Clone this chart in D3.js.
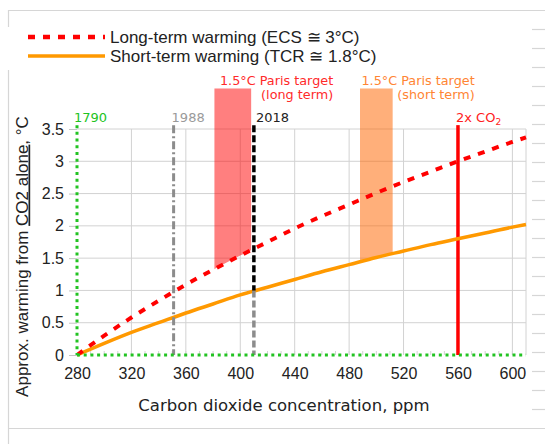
<!DOCTYPE html>
<html>
<head>
<meta charset="utf-8">
<script src="https://cdn.jsdelivr.net/npm/d3@7"></script>
<style>
  body { margin: 0; background: #fff; }
  svg { display: block; }
</style>
</head>
<body>
<svg id="chart" width="545" height="444"></svg>
<script>
// CO2 concentration (ppm) and warming
var ppm = [280, 300, 320, 340, 360, 380, 400, 420, 440, 460, 480, 500, 520, 540, 560, 580, 600, 610];
var longTerm = [0, 0.30, 0.58, 0.84, 1.09, 1.32, 1.54, 1.75, 1.96, 2.15, 2.33, 2.51, 2.68, 2.84, 3.00, 3.15, 3.30, 3.37];
var shortTerm = [0, 0.18, 0.35, 0.50, 0.65, 0.79, 0.93, 1.05, 1.17, 1.29, 1.40, 1.51, 1.61, 1.71, 1.80, 1.89, 1.98, 2.02];

var xTicks = [280, 320, 360, 400, 440, 480, 520, 560, 600];
var yTicks = [0, 0.5, 1, 1.5, 2, 2.5, 3, 3.5];

// year markers
var markerYears = ["1790", "1988", "2018"];
var markerPpm = [280, 351, 410];
var doublePpm = 560;

// Paris target bands
var bandLong = [381, 408];
var bandShort = [488, 512];
var bandTop = 4.13;
var markerTop = 3.56;

var legendLabels = ["Long-term warming (ECS \u2245 3\u00b0C)", "Short-term warming (TCR \u2245 1.8\u00b0C)"];

var svg = d3.select("#chart");

var x = d3.scaleLinear().domain([280, 610]).range([77, 526]);
var y = d3.scaleLinear().domain([0, 3.5]).range([355, 129]);

// cadre de la page
var frame = svg.append("g").attr("stroke", "#d6d6d6").attr("stroke-width", 1.2);
frame.append("line").attr("x1", 8).attr("x2", 545).attr("y1", 10.5).attr("y2", 10.5);
frame.append("line").attr("x1", 8.5).attr("x2", 8.5).attr("y1", 10).attr("y2", 27);
frame.append("line").attr("x1", 8.5).attr("x2", 8.5).attr("y1", 70).attr("y2", 444);
frame.append("line").attr("x1", 8).attr("x2", 545).attr("y1", 428.5).attr("y2", 428.5);
frame.selectAll("line.r")
  .data(d3.range(21))
  .enter()
  .append("line")
  .attr("class", "r")
  .attr("x1", 532).attr("x2", 545)
  .attr("y1", function(d) { return 29.5 + d * 19; })
  .attr("y2", function(d) { return 29.5 + d * 19; });

// grille
var grid = svg.append("g").attr("stroke", "#d2d2d2").attr("stroke-width", 1);
grid.selectAll("line.v")
  .data(xTicks.slice(1))
  .enter()
  .append("line")
  .attr("x1", function(d) { return x(d); })
  .attr("x2", function(d) { return x(d); })
  .attr("y1", y(3.5))
  .attr("y2", y(0));
grid.selectAll("line.h")
  .data(yTicks.slice(1))
  .enter()
  .append("line")
  .attr("x1", x(280))
  .attr("x2", x(610))
  .attr("y1", function(d) { return y(d); })
  .attr("y2", function(d) { return y(d); });
grid.append("line")
  .attr("x1", x(610)).attr("x2", x(610))
  .attr("y1", y(3.5)).attr("y2", y(0));

// petites graduations en bas
grid.selectAll("line.m")
  .data(d3.range(290, 610, 10))
  .enter()
  .append("line")
  .attr("x1", function(d) { return x(d); })
  .attr("x2", function(d) { return x(d); })
  .attr("y1", y(0) - 4)
  .attr("y2", y(0));

// axes
var yAxis = d3.axisLeft(y).tickValues(yTicks).tickSize(8).tickPadding(5).tickFormat(d3.format(""));
var gy = svg.append("g").attr("transform", "translate(" + x(280) + ",0)").call(yAxis);
gy.select(".domain").remove();
gy.selectAll(".tick line").attr("stroke", "#c4c4c4");
gy.selectAll("text")
  .attr("font-family", "Liberation Sans, Arial, sans-serif")
  .attr("font-size", "16px")
  .attr("fill", "#222");

var xAxis = d3.axisBottom(x).tickValues(xTicks).tickSize(0).tickPadding(13);
var gx = svg.append("g").attr("transform", "translate(0," + y(0) + ")").call(xAxis);
gx.select(".domain").remove();
gx.selectAll("text")
  .attr("font-family", "Liberation Sans, Arial, sans-serif")
  .attr("font-size", "16px")
  .attr("fill", "#222");

// bandes Paris, coupées par les courbes
var defs = svg.append("defs");
function clipAbove(id, values) {
  var area = d3.area()
    .x(function(d, i) { return x(ppm[i]); })
    .y0(function(d) { return y(d); })
    .y1(y(bandTop))
    .curve(d3.curveMonotoneX);
  defs.append("clipPath").attr("id", id)
    .append("path").attr("d", area(values));
}
clipAbove("clipLong", longTerm);
clipAbove("clipShort", shortTerm);

svg.append("rect")
  .attr("x", x(bandLong[0]))
  .attr("width", x(bandLong[1]) - x(bandLong[0]))
  .attr("y", y(bandTop))
  .attr("height", y(0) - y(bandTop))
  .attr("fill", "#ff0000")
  .attr("fill-opacity", 0.5)
  .attr("clip-path", "url(#clipLong)");

svg.append("rect")
  .attr("x", x(bandShort[0]))
  .attr("width", x(bandShort[1]) - x(bandShort[0]))
  .attr("y", y(bandTop))
  .attr("height", y(0) - y(bandTop))
  .attr("fill", "#ff6600")
  .attr("fill-opacity", 0.52)
  .attr("clip-path", "url(#clipShort)");

var paris = [
  { band: bandLong, color: "#ff2a2a", sub: "(long term)" },
  { band: bandShort, color: "#ff8533", sub: "(short term)" }
];
paris.forEach(function(p) {
  var t = svg.append("text")
    .attr("text-anchor", "end")
    .attr("font-family", "DejaVu Sans, sans-serif")
    .attr("font-size", "12.8px")
    .attr("fill", p.color);
  t.append("tspan").attr("x", x(p.band[1]) + 82).attr("y", 84.5).text("1.5\u00b0C Paris target");
  t.append("tspan").attr("x", x(p.band[1]) + 82).attr("y", 98.5).text(p.sub);
});

// ligne 2x CO2
svg.append("line")
  .attr("x1", x(doublePpm)).attr("x2", x(doublePpm))
  .attr("y1", y(markerTop)).attr("y2", y(0))
  .attr("stroke", "#ff0000")
  .attr("stroke-width", 3.5);
var dbl = svg.append("text")
  .attr("x", x(doublePpm) - 2)
  .attr("y", 121.5)
  .attr("font-family", "DejaVu Sans, sans-serif")
  .attr("font-size", "13px")
  .attr("fill", "#ff2020")
  .text("2x CO");
dbl.append("tspan").attr("font-size", "9px").attr("dy", 3).text("2");

// courbes
var line = d3.line()
  .x(function(d, i) { return x(ppm[i]); })
  .y(function(d) { return y(d); })
  .curve(d3.curveMonotoneX);

svg.append("path")
  .attr("d", line(shortTerm))
  .attr("fill", "none")
  .attr("stroke", "#ff9900")
  .attr("stroke-width", 3.5);

svg.append("path")
  .attr("d", line(longTerm))
  .attr("fill", "none")
  .attr("stroke", "#ff0000")
  .attr("stroke-width", 4)
  .attr("stroke-dasharray", "7,8");

// marqueurs d'années
svg.append("line")
  .attr("x1", x(markerPpm[1])).attr("x2", x(markerPpm[1]))
  .attr("y1", y(markerTop)).attr("y2", y(0))
  .attr("stroke", "#8c8c8c")
  .attr("stroke-width", 3)
  .attr("stroke-dasharray", "8,3,2,3");

svg.append("line")
  .attr("x1", x(markerPpm[2])).attr("x2", x(markerPpm[2]))
  .attr("y1", y(1)).attr("y2", y(0))
  .attr("stroke", "#8c8c8c")
  .attr("stroke-width", 3.5)
  .attr("stroke-dasharray", "7,3");
svg.append("line")
  .attr("x1", x(markerPpm[2])).attr("x2", x(markerPpm[2]))
  .attr("y1", y(markerTop)).attr("y2", y(1))
  .attr("stroke", "#000")
  .attr("stroke-width", 3.5)
  .attr("stroke-dasharray", "7,3");

var green = svg.append("g")
  .attr("stroke", "#22c322")
  .attr("stroke-width", 3)
  .attr("stroke-dasharray", "3,3.7");
green.append("line")
  .attr("x1", x(280)).attr("x2", x(610))
  .attr("y1", y(0)).attr("y2", y(0));
green.append("line")
  .attr("x1", x(markerPpm[0])).attr("x2", x(markerPpm[0]))
  .attr("y1", y(markerTop)).attr("y2", y(0));

var markerColors = ["#22c322", "#9a9a9a", "#222"];
var markerDx = [-3, -2, 2];
svg.selectAll("text.year")
  .data(markerYears)
  .enter()
  .append("text")
  .attr("class", "year")
  .attr("x", function(d, i) { return x(markerPpm[i]) + markerDx[i]; })
  .attr("y", 121.5)
  .attr("font-family", "DejaVu Sans, sans-serif")
  .attr("font-size", "13px")
  .attr("fill", function(d, i) { return markerColors[i]; })
  .text(function(d) { return d; });

// légende
var legend = svg.append("g");
legend.append("line")
  .attr("x1", 28).attr("x2", 105).attr("y1", 37).attr("y2", 37)
  .attr("stroke", "#ff0000").attr("stroke-width", 4.5).attr("stroke-dasharray", "7,8");
legend.append("line")
  .attr("x1", 28).attr("x2", 105).attr("y1", 56).attr("y2", 56)
  .attr("stroke", "#ff9900").attr("stroke-width", 3.5);
legend.selectAll("text")
  .data(legendLabels)
  .enter()
  .append("text")
  .attr("x", 110)
  .attr("y", function(d, i) { return 42.5 + i * 19.3; })
  .attr("font-family", "Liberation Sans, Arial, sans-serif")
  .attr("font-size", "17px")
  .attr("fill", "#222")
  .text(function(d) { return d; });

// titres des axes
svg.append("text")
  .attr("x", 284)
  .attr("y", 411)
  .attr("text-anchor", "middle")
  .attr("font-family", "DejaVu Sans, sans-serif")
  .attr("font-size", "16.5px")
  .attr("fill", "#222")
  .text("Carbon dioxide concentration, ppm");

var yt = svg.append("text")
  .attr("transform", "translate(27.5,256.5) rotate(-90)")
  .attr("text-anchor", "middle")
  .attr("font-family", "Liberation Sans, Arial, sans-serif")
  .attr("font-size", "17px")
  .attr("fill", "#222");
yt.append("tspan").text("Approx. warming from ");
yt.append("tspan").style("text-decoration", "underline").text("CO2 alone");
yt.append("tspan").text(", \u00b0C");
</script>
</body>
</html>
